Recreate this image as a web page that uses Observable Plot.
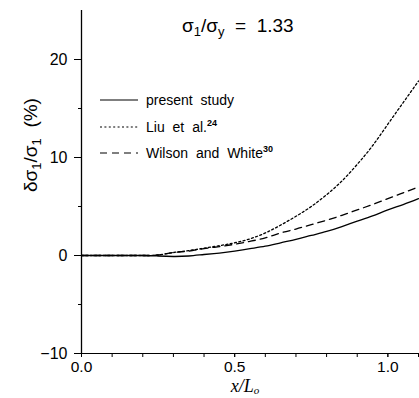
<!DOCTYPE html>
<html><head><meta charset="utf-8">
<script src="https://cdn.jsdelivr.net/npm/d3@7"></script>
<script src="https://cdn.jsdelivr.net/npm/@observablehq/plot@0.6"></script>
<style>
body{margin:0;background:#fff}
#chart{width:419px;height:398px}
</style>
</head><body><div id="chart"></div>
<script>
// x / L0 sample positions
const xValues      = [0, 0.1, 0.2, 0.25, 0.3, 0.35, 0.4, 0.45, 0.5, 0.55, 0.6, 0.65, 0.7, 0.75, 0.8, 0.85, 0.9, 0.95, 1.0, 1.05, 1.1];
// δσ1/σ1 (%) per series
const presentStudy = [0, 0, 0, -0.05, -0.1, -0.05, 0.1, 0.25, 0.45, 0.7, 0.95, 1.3, 1.65, 2.05, 2.45, 2.95, 3.5, 4.05, 4.65, 5.2, 5.8];
const liuEtAl      = [0, 0, 0, 0.05, 0.3, 0.5, 0.75, 1.0, 1.3, 1.7, 2.3, 3.1, 4.0, 5.0, 6.2, 7.6, 9.3, 11.2, 13.4, 15.6, 17.8];
const wilsonWhite  = [0, 0, 0, 0.05, 0.3, 0.45, 0.7, 0.9, 1.15, 1.45, 1.8, 2.3, 2.7, 3.15, 3.6, 4.1, 4.65, 5.2, 5.8, 6.4, 7.0];
const seriesNames  = ["present study", "Liu et al.", "Wilson and White"];
const seriesRefs   = ["", "24", "30"];
const xTicks       = [0, 0.1, 0.2, 0.3, 0.4, 0.5, 0.6, 0.7, 0.8, 0.9, 1.0, 1.1];
const xTickLabels  = [0, 0.5, 1.0];
const yMajorTicks  = [-10, 0, 10, 20];
const yMinorTicks  = [-5, 5, 15];
const dashes       = [null, "2,2.4", "7,5"];

const seriesValues = [presentStudy, liuEtAl, wilsonWhite];
const data = seriesValues.flatMap((vals, k) => xValues.map((x, i) => ({x, y: vals[i], s: seriesNames[k]})));

const plot = Plot.plot({
  width: 419, height: 398,
  marginLeft: 81, marginRight: 1, marginTop: 10, marginBottom: 45,
  style: {fontFamily: "'Liberation Sans', Arial, sans-serif", fontSize: "16px", background: "#fff", color: "#000"},
  x: {domain: [0, 1.1]},
  y: {domain: [-10, 25]},
  marks: [
    Plot.axisX({ticks: xTicks, tickSize: 4, text: null, label: null, strokeWidth: 1}),
    Plot.axisX({ticks: xTickLabels, tickSize: 4, tickPadding: 3, tickFormat: d3.format(".1f"), label: null, fontSize: 15.5}),
    Plot.axisY({ticks: yMajorTicks, tickSize: 7, tickPadding: 7, tickFormat: d => d < 0 ? "\u2212" + Math.abs(d) : String(d), label: null, fontSize: 16}),
    Plot.axisY({ticks: yMinorTicks, tickSize: 3, text: null, label: null}),
    Plot.ruleY([-10], {stroke: "#000", strokeWidth: 1}),
    Plot.ruleX([0], {stroke: "#000", strokeWidth: 1.3}),
    ...seriesNames.map((name, k) => Plot.line(data.filter(d => d.s === name), {
      x: "x", y: "y", stroke: "#000", strokeWidth: 1.3, curve: "natural",
      strokeDasharray: dashes[k]
    }))
  ]
});

const svg = d3.select(plot);
const font = "'Liberation Sans', Arial, sans-serif";

// Title
const t = svg.append("text").attr("x", 182).attr("y", 32).attr("text-anchor", "start").attr("font-size", 19)
  .attr("font-family", font).attr("fill", "#000").style("white-space", "pre");
t.append("tspan").text("σ");
t.append("tspan").attr("dy", 4).attr("font-size", 13).text("1");
t.append("tspan").attr("dy", -4).text("/σ");
t.append("tspan").attr("dy", 4).attr("font-size", 13).text("y");
t.append("tspan").attr("dy", -4).text("  =  1.33");

// Legend
const rowsY = [100, 127, 153];
seriesNames.forEach((name, k) => {
  svg.append("line").attr("x1", 100).attr("x2", 138).attr("y1", rowsY[k]).attr("y2", rowsY[k])
    .attr("stroke", "#000").attr("stroke-width", 1.2).attr("stroke-dasharray", dashes[k]);
  const lt = svg.append("text").attr("x", 146).attr("y", rowsY[k] + 5).attr("font-size", 14).attr("text-anchor", "start")
    .attr("font-family", font).attr("word-spacing", 4).attr("fill", "#000");
  lt.append("tspan").text(name);
  if (seriesRefs[k]) lt.append("tspan").attr("dy", -6).attr("font-size", 9).attr("font-weight", "bold").text(seriesRefs[k]);
});

// Y label
const yl = svg.append("text").attr("transform", "translate(37,145) rotate(-90)").attr("text-anchor", "middle")
  .attr("font-size", 19).attr("font-family", font).attr("fill", "#000").style("white-space", "pre");
yl.append("tspan").text("δσ");
yl.append("tspan").attr("dy", 4).attr("font-size", 13).text("1");
yl.append("tspan").attr("dy", -4).text("/σ");
yl.append("tspan").attr("dy", 4).attr("font-size", 13).text("1");
yl.append("tspan").attr("dy", -4).text("  (%)");

// X label
const xl = svg.append("text").attr("x", 245).attr("y", 392).attr("text-anchor", "middle")
  .attr("font-size", 18).attr("font-family", "'Liberation Serif', 'DejaVu Serif', serif").attr("font-style", "italic").attr("fill", "#000");
xl.append("tspan").text("x/L");
xl.append("tspan").attr("dy", 2).attr("font-size", 11).text("o");

document.getElementById("chart").appendChild(plot);
</script>
</body></html>
